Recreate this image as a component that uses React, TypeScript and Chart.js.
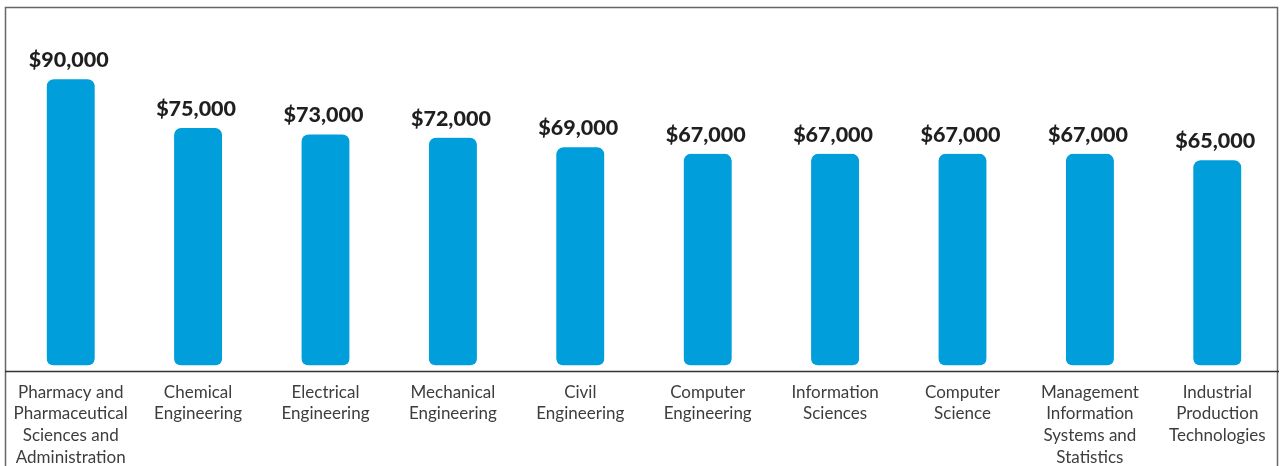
import React, { useEffect, useRef } from "react";
import { Chart, registerables } from "chart.js";

Chart.register(...registerables);

const categories: string[][] = [
  ["Pharmacy and", "Pharmaceutical", "Sciences and", "Administration"],
  ["Chemical", "Engineering"],
  ["Electrical", "Engineering"],
  ["Mechanical", "Engineering"],
  ["Civil", "Engineering"],
  ["Computer", "Engineering"],
  ["Information", "Sciences"],
  ["Computer", "Science"],
  ["Management", "Information", "Systems and", "Statistics"],
  ["Industrial", "Production", "Technologies"],
];

const salaries: number[] = [90000, 75000, 73000, 72000, 69000, 67000, 67000, 67000, 67000, 65000];

const BAR_COLOR = "#009FDB";
const FONT = "Lato, 'Open Sans', sans-serif";

const framePlugin = {
  id: "frameAndLabels",
  afterDatasetsDraw(chart: any) {
    const ctx = chart.ctx;
    const meta = chart.getDatasetMeta(0);
    ctx.save();
    ctx.font = `900 21.5px ${FONT}`;
    ctx.fillStyle = "#1f1f1f";
    ctx.textAlign = "center";
    ctx.textBaseline = "alphabetic";
    meta.data.forEach((bar: any, i: number) => {
      const v = chart.data.datasets[0].data[i] as number;
      ctx.fillText("$" + v.toLocaleString("en-US"), bar.x - 2, bar.y - 12);
    });
    ctx.restore();
  },
  afterDraw(chart: any) {
    const ctx = chart.ctx;
    const bottom = chart.chartArea.bottom;
    ctx.save();
    ctx.strokeStyle = "#666666";
    ctx.lineWidth = 1.5;
    ctx.beginPath();
    ctx.moveTo(5.5, chart.height);
    ctx.lineTo(5.5, 7.5);
    ctx.lineTo(1277.5, 7.5);
    ctx.lineTo(1277.5, chart.height);
    ctx.stroke();
    ctx.strokeStyle = "#333333";
    ctx.lineWidth = 1.5;
    ctx.beginPath();
    ctx.moveTo(5, bottom + 0.5);
    ctx.lineTo(1279, bottom + 0.5);
    ctx.stroke();
    ctx.restore();
  },
};

export default function App() {
  const ref = useRef<HTMLCanvasElement>(null);

  useEffect(() => {
    document.body.style.margin = "0";
    const canvas = ref.current!;
    const chart = new Chart(canvas, {
      type: "bar",
      data: {
        labels: categories,
        datasets: [
          {
            data: salaries,
            backgroundColor: BAR_COLOR,
            borderColor: "rgba(0,0,0,0)",
            borderWidth: { top: 0, left: 0, right: 0, bottom: 6 },
            borderSkipped: false,
            borderRadius: { topLeft: 7, topRight: 7, bottomLeft: 13, bottomRight: 13 },
            barThickness: 48,
          },
        ],
      },
      options: {
        responsive: false,
        animation: false,
        layout: { padding: { top: 8, left: 7, right: 1, bottom: 0 } },
        plugins: {
          legend: { display: false },
          tooltip: { enabled: false },
          title: { display: false },
        },
        scales: {
          x: {
            grid: { display: false, drawTicks: false },
            border: { display: false },
            ticks: {
              autoSkip: false,
              maxRotation: 0,
              minRotation: 0,
              padding: 10.5,
              color: "#3d3d3d",
              font: { family: FONT, size: 17, lineHeight: 1.27 },
            },
            afterFit: (scale: any) => {
              scale.height = 95;
            },
          },
          y: {
            display: false,
            min: 0,
            max: 112000,
          },
        },
      },
      plugins: [framePlugin],
    });
    return () => chart.destroy();
  }, []);

  return <canvas ref={ref} width={1282} height={466} style={{ display: "block" }} />;
}
